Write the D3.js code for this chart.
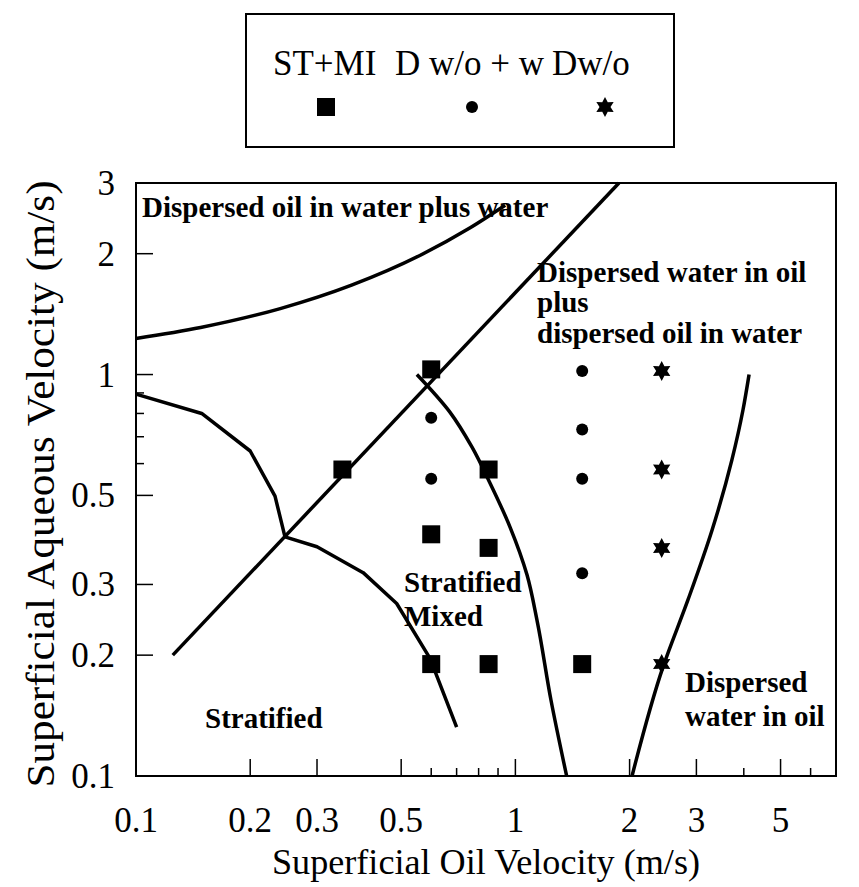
<!DOCTYPE html>
<html><head><meta charset="utf-8">
<script src="https://cdn.jsdelivr.net/npm/d3@7"></script>
<style>
html,body{margin:0;padding:0;background:#fff;}
svg{display:block;}
</style></head>
<body>
<script>
// ---------- data ----------
const xTickMajor = [0.2, 0.3, 0.5, 1, 2, 3, 5];
const xTickMinor = [0.6, 0.7, 0.8, 0.9, 4, 6];
const xTickLabels = [0.1, 0.2, 0.3, 0.5, 1, 2, 3, 5];
const yTickMajor = [0.2, 0.3, 0.5, 1, 2];
const yTickMinor = [0.6, 0.7, 0.8, 0.9];
const yTickLabels = [0.1, 0.2, 0.3, 0.5, 1, 2, 3];

const seriesNames = ["ST+MI", "D w/o + w", "Dw/o"];
// ST+MI (squares)
const stmiX = [0.6, 0.35, 0.85, 0.6, 0.85, 0.6, 0.85, 1.5];
const stmiY = [1.03, 0.58, 0.58, 0.40, 0.37, 0.19, 0.19, 0.19];
// D w/o + w (circles)
const dwowX = [0.6, 0.6, 1.5, 1.5, 1.5, 1.5];
const dwowY = [0.78, 0.55, 1.02, 0.73, 0.55, 0.32];
// Dw/o (stars)
const dwoX = [2.43, 2.43, 2.43, 2.43];
const dwoY = [1.02, 0.58, 0.37, 0.19];

// boundary curves
const curveAx = [0.1, 0.148, 0.24, 0.37, 0.56, 0.76, 0.94];
const curveAy = [1.23, 1.31, 1.46, 1.67, 1.98, 2.32, 2.64];
const lineBx = [0.125, 1.875];
const lineBy = [0.2, 3.0];
const curveCx = [0.1, 0.149, 0.2, 0.2325, 0.247, 0.3, 0.397, 0.4865, 0.5956, 0.70];
const curveCy = [0.894, 0.80, 0.645, 0.498, 0.394, 0.3725, 0.321, 0.269, 0.1964, 0.1324];
const curveEx = [0.55, 0.672, 0.768, 0.857, 0.968, 1.073, 1.14, 1.241, 1.365];
const curveEy = [1.0, 0.806, 0.66, 0.537, 0.417, 0.317, 0.2446, 0.1546, 0.1];
const curveFx = [4.13, 3.98, 3.72, 3.30, 2.85, 2.45, 2.03];
const curveFy = [1.0, 0.816, 0.612, 0.41, 0.2745, 0.187, 0.1];

// ---------- layout ----------
const W = 859, H = 887;
const svg = d3.select("body").append("svg").attr("width", W).attr("height", H);
svg.append("rect").attr("width", W).attr("height", H).attr("fill", "#fff");

const x = d3.scaleLog().domain([0.1, 7]).range([136, 836]);
const y = d3.scaleLog().domain([0.1, 3]).range([776, 183]);
const serif = "'Liberation Serif','Times New Roman',Times,serif";

// frame
svg.append("rect").attr("x", x.range()[0]).attr("y", y.range()[1])
  .attr("width", x.range()[1] - x.range()[0]).attr("height", y.range()[0] - y.range()[1])
  .attr("fill", "none").attr("stroke", "#000").attr("stroke-width", 2);

// x ticks (inside, bottom)
const gx = svg.append("g");
gx.selectAll("line.maj").data(xTickMajor).join("line")
  .attr("x1", d => x(d)).attr("x2", d => x(d))
  .attr("y1", y.range()[0]).attr("y2", y.range()[0] - 17)
  .attr("stroke", "#000").attr("stroke-width", 1.5);
gx.selectAll("line.min").data(xTickMinor).join("line")
  .attr("x1", d => x(d)).attr("x2", d => x(d))
  .attr("y1", y.range()[0]).attr("y2", y.range()[0] - 8)
  .attr("stroke", "#000").attr("stroke-width", 1.5);
gx.selectAll("text").data(xTickLabels).join("text")
  .attr("x", d => x(d)).attr("y", 832)
  .attr("text-anchor", "middle").attr("font-family", serif).attr("font-size", 35)
  .text(d => d);

// y ticks (inside, left)
const gy = svg.append("g");
gy.selectAll("line.maj").data(yTickMajor).join("line")
  .attr("x1", x.range()[0]).attr("x2", x.range()[0] + 17)
  .attr("y1", d => y(d)).attr("y2", d => y(d))
  .attr("stroke", "#000").attr("stroke-width", 1.5);
gy.selectAll("line.min").data(yTickMinor).join("line")
  .attr("x1", x.range()[0]).attr("x2", x.range()[0] + 8)
  .attr("y1", d => y(d)).attr("y2", d => y(d))
  .attr("stroke", "#000").attr("stroke-width", 1.5);
gy.selectAll("text").data(yTickLabels).join("text")
  .attr("x", 115).attr("y", d => y(d) + 12)
  .attr("text-anchor", "end").attr("font-family", serif).attr("font-size", 35)
  .text(d => d);

// axis titles
svg.append("text").attr("x", 486).attr("y", 874)
  .attr("text-anchor", "middle").attr("font-family", serif).attr("font-size", 36)
  .attr("textLength", 428).attr("lengthAdjust", "spacingAndGlyphs")
  .text("Superficial Oil Velocity (m/s)");
svg.append("text").attr("transform", "translate(54,484) rotate(-90)")
  .attr("text-anchor", "middle").attr("font-family", serif).attr("font-size", 40)
  .attr("textLength", 607).attr("lengthAdjust", "spacingAndGlyphs")
  .text("Superficial Aqueous Velocity (m/s)");

// boundary curves
const zip = (a, b) => a.map((v, i) => [v, b[i]]);
const gen = c => d3.line().x(d => x(d[0])).y(d => y(d[1])).curve(c);
const curves = [
  {pts: zip(curveAx, curveAy), gen: gen(d3.curveMonotoneX)},
  {pts: zip(lineBx, lineBy), gen: gen(d3.curveLinear)},
  {pts: zip(curveCx, curveCy), gen: gen(d3.curveLinear)},
  {pts: zip(curveEx, curveEy), gen: gen(d3.curveMonotoneY)},
  {pts: zip(curveFx, curveFy), gen: gen(d3.curveMonotoneY)}
];
svg.append("g").selectAll("path").data(curves).join("path")
  .attr("d", d => d.gen(d.pts))
  .attr("fill", "none").attr("stroke", "#000").attr("stroke-width", 3.5)
  .attr("stroke-linejoin", "round");

// markers
function hexagram(r) {
  const p = [];
  for (let i = 0; i < 12; i++) {
    const a = -Math.PI / 2 + i * Math.PI / 6;
    const rr = i % 2 === 0 ? r : r * 0.55;
    p.push([rr * Math.cos(a), rr * Math.sin(a)]);
  }
  return "M" + p.map(q => q.join(",")).join("L") + "Z";
}
const gm = svg.append("g");
gm.selectAll("rect").data(zip(stmiX, stmiY)).join("rect")
  .attr("x", d => x(d[0]) - 9).attr("y", d => y(d[1]) - 9)
  .attr("width", 18).attr("height", 18).attr("fill", "#000");
gm.selectAll("circle").data(zip(dwowX, dwowY)).join("circle")
  .attr("cx", d => x(d[0])).attr("cy", d => y(d[1])).attr("r", 6).attr("fill", "#000");
gm.selectAll("path").data(zip(dwoX, dwoY)).join("path")
  .attr("transform", d => `translate(${x(d[0])},${y(d[1])})`)
  .attr("d", hexagram(10)).attr("fill", "#000");

// region labels
const regionLabels = [
  {t: "Dispersed oil in water plus water", x: 142, y: 217},
  {t: "Dispersed water in oil", x: 537, y: 282},
  {t: "plus", x: 537, y: 312},
  {t: "dispersed oil in water", x: 537, y: 343},
  {t: "Stratified", x: 404, y: 592},
  {t: "Mixed", x: 404, y: 626},
  {t: "Stratified", x: 205, y: 728},
  {t: "Dispersed", x: 685, y: 692},
  {t: "water in oil", x: 685, y: 726}
];
svg.append("g").selectAll("text").data(regionLabels).join("text")
  .attr("x", d => d.x).attr("y", d => d.y)
  .attr("font-family", serif).attr("font-weight", "bold").attr("font-size", 29)
  .text(d => d.t);

// legend
const lg = svg.append("g");
lg.append("rect").attr("x", 246).attr("y", 14).attr("width", 428).attr("height", 133)
  .attr("fill", "#fff").attr("stroke", "#000").attr("stroke-width", 2);
const legX = [273, 395, 552];
lg.selectAll("text").data(seriesNames).join("text")
  .attr("x", (d, i) => legX[i]).attr("y", 75)
  .attr("font-family", serif).attr("font-size", 35)
  .text(d => d);
lg.append("rect").attr("x", 326 - 9).attr("y", 107 - 9).attr("width", 18).attr("height", 18).attr("fill", "#000");
lg.append("circle").attr("cx", 472).attr("cy", 107).attr("r", 6).attr("fill", "#000");
lg.append("path").attr("transform", "translate(605,107)").attr("d", hexagram(10)).attr("fill", "#000");
</script>
</body></html>
